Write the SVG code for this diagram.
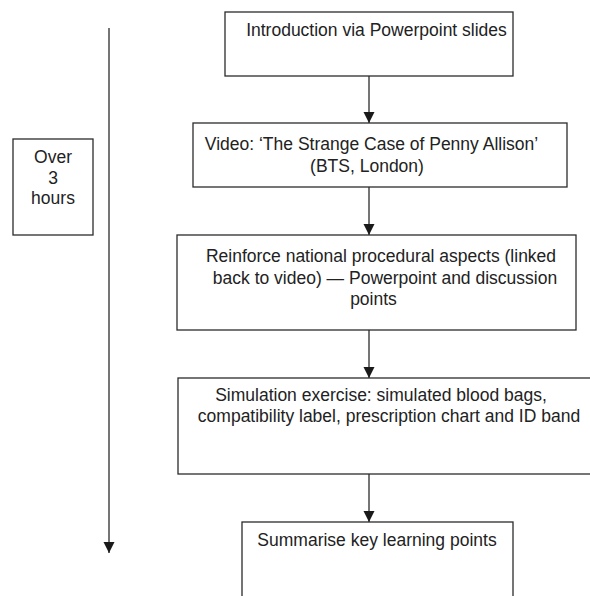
<svg xmlns="http://www.w3.org/2000/svg" width="590" height="596" viewBox="0 0 590 596">
<style>
.box{fill:#fff;stroke:#2b2b2b;stroke-width:1.3}
.t{font-family:"Liberation Sans",Arial,sans-serif;font-size:17.5px;fill:#222;text-anchor:middle}
.c{stroke:#2b2b2b;stroke-width:1.3;fill:none;marker-end:url(#ah)}
</style>
<defs>
<marker id="ah" markerUnits="userSpaceOnUse" markerWidth="12" markerHeight="12" viewBox="0 0 12 12" refX="11" refY="6" orient="auto">
<path d="M0,0.5 L11,6 L0,11.5 Z" fill="#1a1a1a"/>
</marker>
</defs>
<rect width="590" height="596" fill="#fff"/>
<g id="connectors">
<line class="c" x1="109" y1="28" x2="109" y2="553"/>
<line class="c" x1="369" y1="76" x2="369" y2="123"/>
<line class="c" x1="369" y1="187" x2="369" y2="235"/>
<line class="c" x1="369" y1="330" x2="369" y2="378"/>
<line class="c" x1="369" y1="474" x2="369" y2="522"/>
</g>
<g id="duration">
<rect class="box" x="13" y="139" width="80" height="96"/>
<text class="t" x="53" y="163">Over</text>
<text class="t" x="53" y="184">3</text>
<text class="t" x="53" y="204">hours</text>
</g>
<g id="n1">
<rect class="box" x="225" y="12" width="288" height="64"/>
<text class="t" x="376.5" y="36">Introduction via Powerpoint slides</text>
</g>
<g id="n2">
<rect class="box" x="193" y="123" width="374" height="64"/>
<text class="t" x="371.5" y="150">Video: ‘The Strange Case of Penny Allison’</text>
<text class="t" x="367" y="171.5">(BTS, London)</text>
</g>
<g id="n3">
<rect class="box" x="177" y="235" width="399" height="95"/>
<text class="t" x="381" y="262">Reinforce national procedural aspects (linked</text>
<text class="t" x="385" y="283.5">back to video) — Powerpoint and discussion</text>
<text class="t" x="373.5" y="305">points</text>
</g>
<g id="n4">
<rect class="box" x="178" y="378" width="416" height="96"/>
<text class="t" x="381" y="400.5">Simulation exercise: simulated blood bags,</text>
<text class="t" x="389" y="421.5">compatibility label, prescription chart and ID band</text>
</g>
<g id="n5">
<rect class="box" x="242" y="522" width="271" height="80"/>
<text class="t" x="377" y="545.5">Summarise key learning points</text>
</g>
</svg>
